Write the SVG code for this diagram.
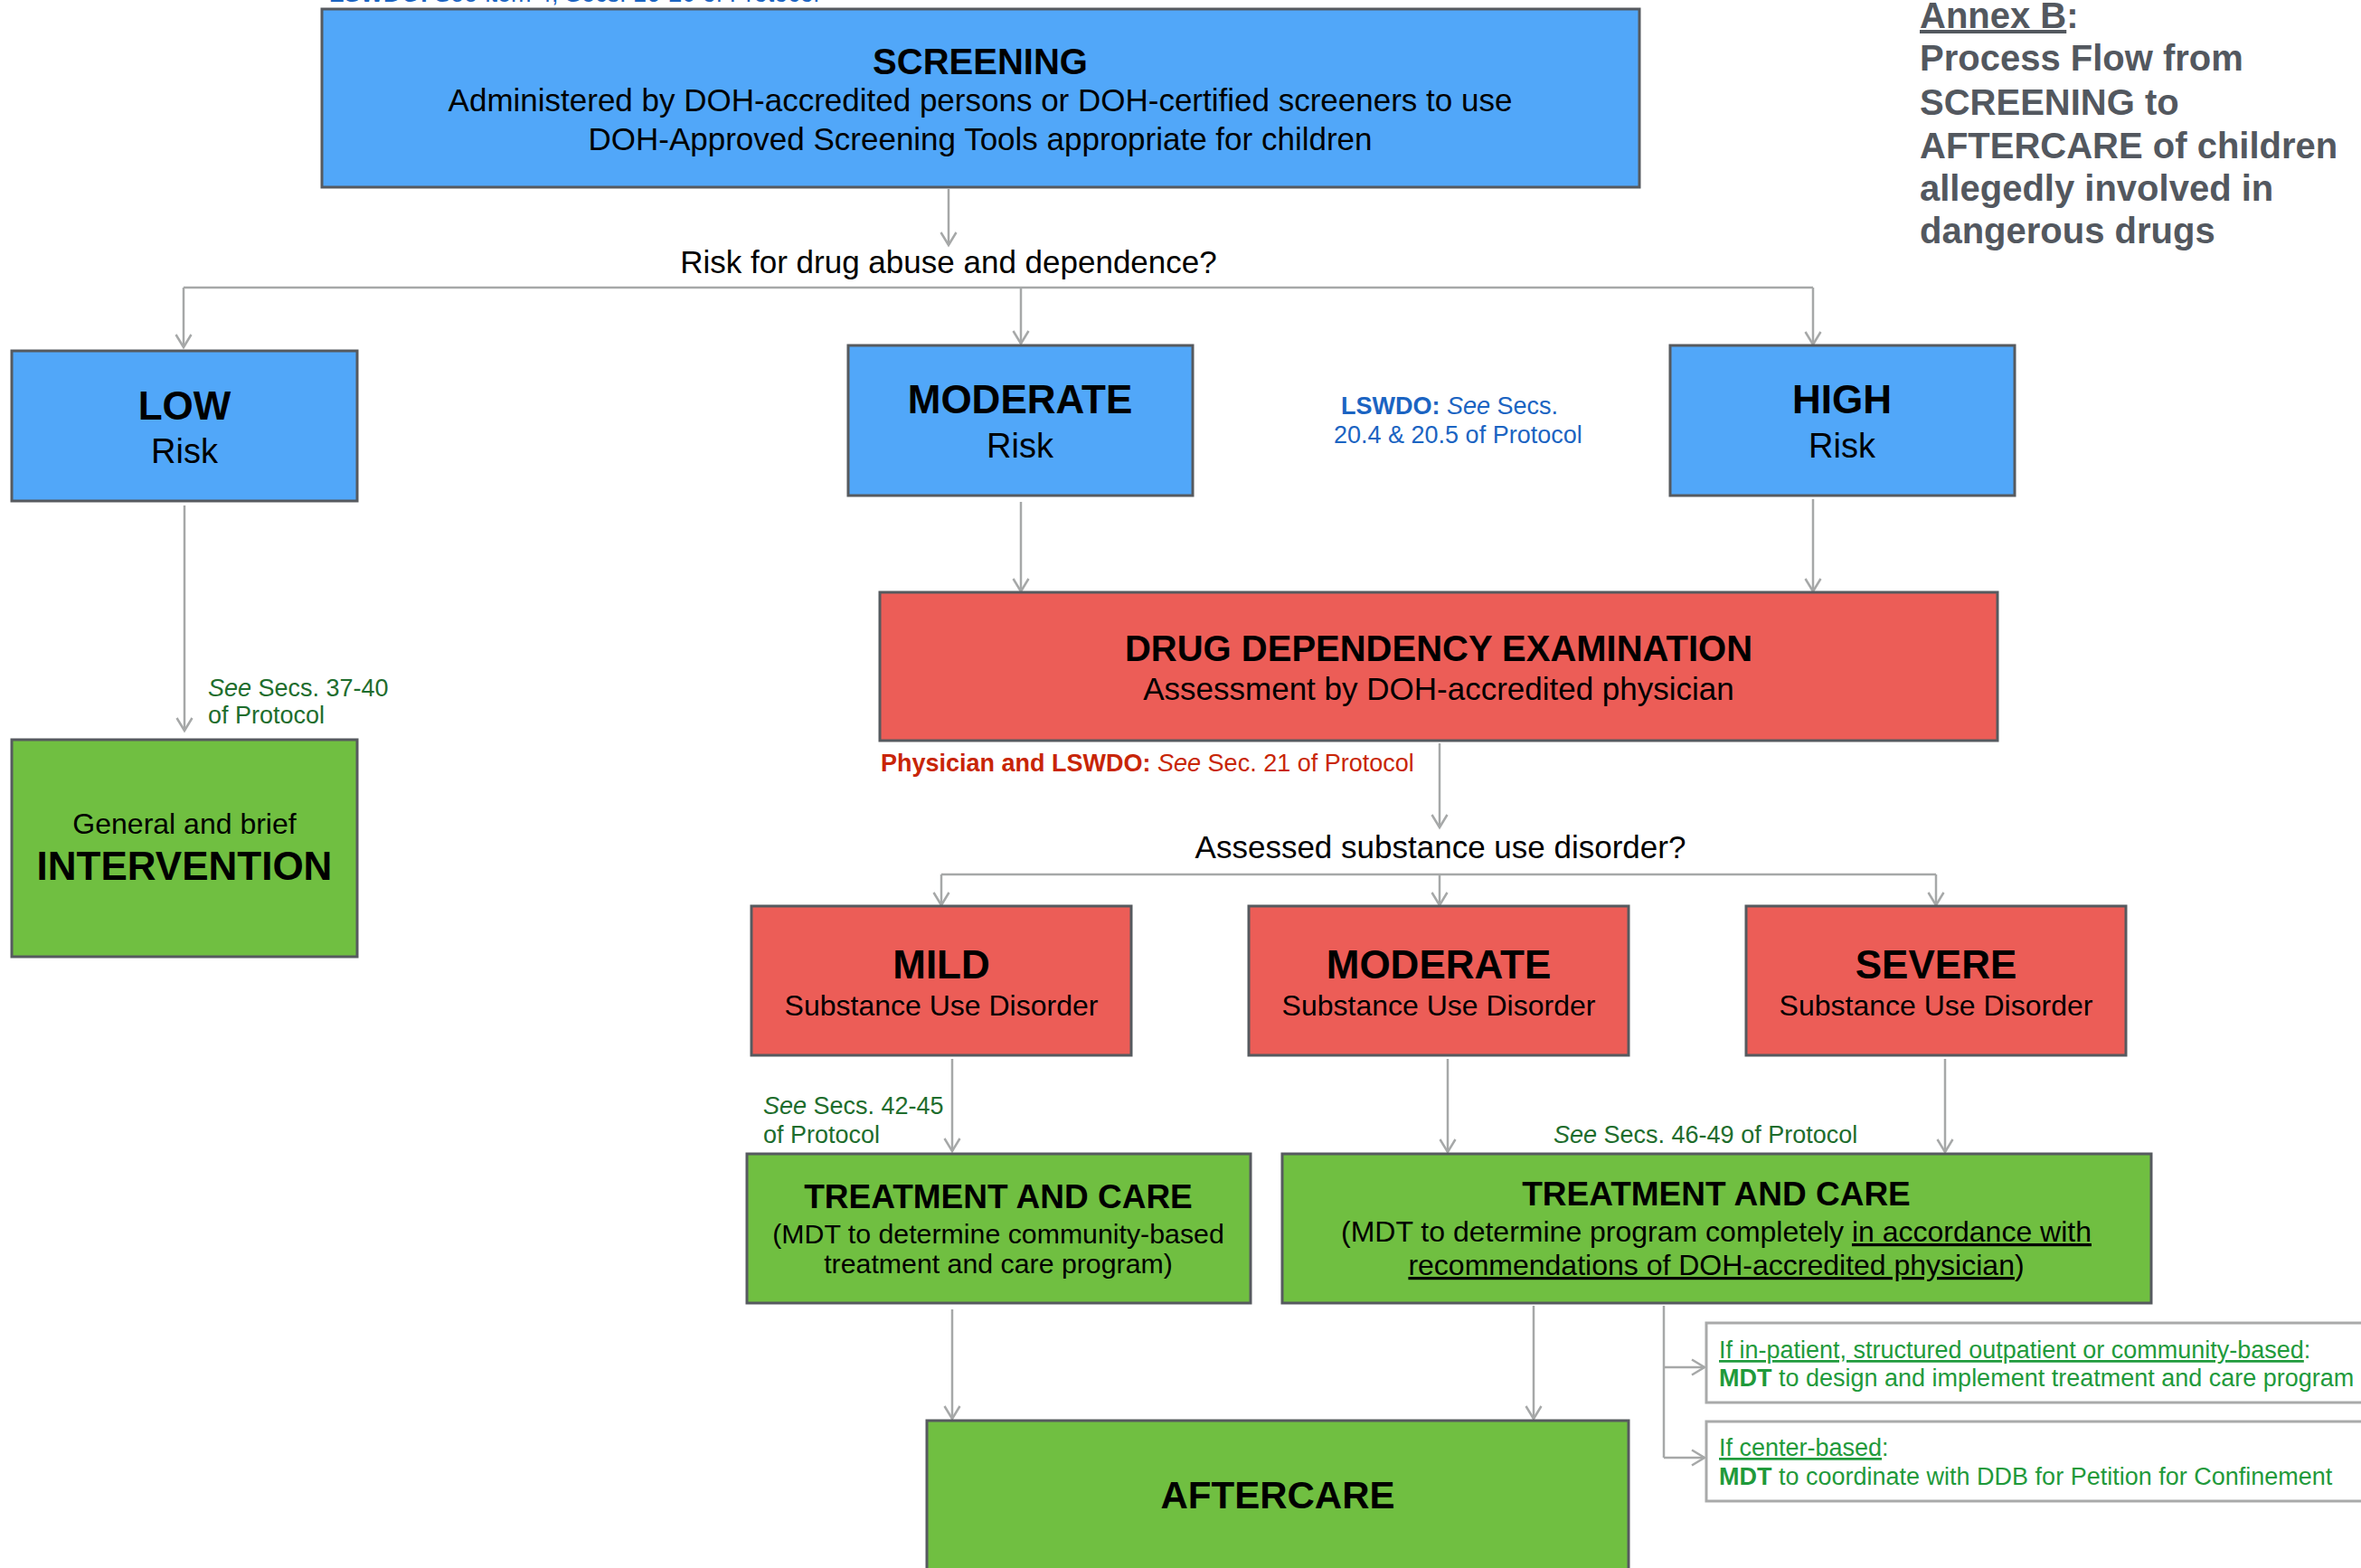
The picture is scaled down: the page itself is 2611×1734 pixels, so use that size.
<svg xmlns="http://www.w3.org/2000/svg" width="2611" height="1734" viewBox="0 0 2611 1734">
<style>
  text { font-family: "Liberation Sans", Arial, sans-serif; }
  .box { stroke: #565a5f; stroke-width: 3; }
  .blue { fill: #51a7f9; }
  .red { fill: #ec5d57; }
  .green { fill: #70bf41; }
  .side { fill: #ffffff; stroke: #a9aaaa; stroke-width: 3; }
  .t { fill: #000; text-anchor: middle; }
  .b { font-weight: bold; }
  .conn { fill: none; stroke: #a6a8a8; stroke-width: 2.5; }
  .q { font-size: 35px; fill: #000; text-anchor: middle; }
  .note { font-size: 27px; }
  .ng { fill: #1e6d2d; }
  .sg { fill: #1f9a3b; font-size: 27px; }
  .annex { fill: #53585f; font-weight: bold; font-size: 40px; }
</style>
<defs>
  <marker id="arr" markerUnits="userSpaceOnUse" markerWidth="26" markerHeight="26" viewBox="0 0 26 26" refX="23" refY="13" orient="auto">
    <path d="M9,4.5 L23,13 L9,21.5" fill="none" stroke="#a6a8a8" stroke-width="2.5"/>
  </marker>
</defs>

<!-- cut-off top annotation (cut off in the reference as well) -->
<text x="364" y="2" class="note" fill="#1b64c2"><tspan font-weight="bold">LSWDO:</tspan> <tspan font-style="italic">See</tspan> item 4, Secs. 16-20 of Protocol</text>

<g id="annex-title">
  <text x="2123" y="31" class="annex" font-size="45"><tspan text-decoration="underline">Annex B</tspan>:</text>
  <text x="2123" y="78" class="annex">Process Flow from</text>
  <text x="2123" y="127" class="annex">SCREENING to</text>
  <text x="2123" y="175" class="annex">AFTERCARE of children</text>
  <text x="2123" y="222" class="annex">allegedly involved in</text>
  <text x="2123" y="269" class="annex">dangerous drugs</text>
</g>

<g id="connectors">
  <path class="conn" d="M1049,209 V271" marker-end="url(#arr)"/>
  <path class="conn" d="M203,318 H2005"/>
  <path class="conn" d="M203,318 V384" marker-end="url(#arr)"/>
  <path class="conn" d="M1129,318 V380" marker-end="url(#arr)"/>
  <path class="conn" d="M2005,318 V381" marker-end="url(#arr)"/>
  <path class="conn" d="M204,559 V808" marker-end="url(#arr)"/>
  <path class="conn" d="M1129,555 V654" marker-end="url(#arr)"/>
  <path class="conn" d="M2005,552 V654" marker-end="url(#arr)"/>
  <path class="conn" d="M1592,822 V915" marker-end="url(#arr)"/>
  <path class="conn" d="M1041,967 H2141"/>
  <path class="conn" d="M1041,967 V1001" marker-end="url(#arr)"/>
  <path class="conn" d="M1592,967 V1001" marker-end="url(#arr)"/>
  <path class="conn" d="M2141,967 V1001" marker-end="url(#arr)"/>
  <path class="conn" d="M1053,1171 V1273" marker-end="url(#arr)"/>
  <path class="conn" d="M1601,1171 V1274" marker-end="url(#arr)"/>
  <path class="conn" d="M2151,1171 V1274" marker-end="url(#arr)"/>
  <path class="conn" d="M1053,1448 V1569" marker-end="url(#arr)"/>
  <path class="conn" d="M1696,1444 V1569" marker-end="url(#arr)"/>
  <path class="conn" d="M1840,1444 V1612"/>
  <path class="conn" d="M1840,1512 H1885" marker-end="url(#arr)"/>
  <path class="conn" d="M1840,1612 H1885" marker-end="url(#arr)"/>
</g>

<g id="screening">
  <rect x="356" y="10" width="1457" height="197" class="box blue"/>
  <text x="1084" y="82" class="t b" font-size="40">SCREENING</text>
  <text x="1084" y="123" class="t" font-size="35">Administered by DOH-accredited persons or DOH-certified screeners to use</text>
  <text x="1084" y="166" class="t" font-size="35">DOH-Approved Screening Tools appropriate for children</text>
</g>

<text x="1049" y="302" class="q">Risk for drug abuse and dependence?</text>

<g id="low-risk">
  <rect x="13" y="388" width="382" height="166" class="box blue"/>
  <text x="204" y="464" class="t b" font-size="44">LOW</text>
  <text x="204" y="512" class="t" font-size="38">Risk</text>
</g>

<g id="moderate-risk">
  <rect x="938" y="382" width="381" height="166" class="box blue"/>
  <text x="1128" y="457" class="t b" font-size="44">MODERATE</text>
  <text x="1128" y="506" class="t" font-size="38">Risk</text>
</g>

<g id="high-risk">
  <rect x="1847" y="382" width="381" height="166" class="box blue"/>
  <text x="2037" y="457" class="t b" font-size="44">HIGH</text>
  <text x="2037" y="506" class="t" font-size="38">Risk</text>
</g>

<g id="lswdo-note" class="note" fill="#1b64c2">
  <text x="1483" y="458"><tspan font-weight="bold">LSWDO:</tspan> <tspan font-style="italic">See</tspan> Secs.</text>
  <text x="1475" y="490">20.4 &amp; 20.5 of Protocol</text>
</g>

<g id="low-note" class="note ng">
  <text x="230" y="770"><tspan font-style="italic">See</tspan> Secs. 37-40</text>
  <text x="230" y="800">of Protocol</text>
</g>

<g id="intervention">
  <rect x="13" y="818" width="382" height="240" class="box green"/>
  <text x="204" y="922" class="t" font-size="32">General and brief</text>
  <text x="204" y="973" class="t b" font-size="44">INTERVENTION</text>
</g>

<g id="dde">
  <rect x="973" y="655" width="1236" height="164" class="box red"/>
  <text x="1591" y="731" class="t b" font-size="40">DRUG DEPENDENCY EXAMINATION</text>
  <text x="1591" y="774" class="t" font-size="35">Assessment by DOH-accredited physician</text>
</g>

<text x="974" y="853" class="note" fill="#c82506" font-size="26.6"><tspan font-weight="bold">Physician and LSWDO:</tspan> <tspan font-style="italic">See</tspan> Sec. 21 of Protocol</text>

<text x="1593" y="949" class="q">Assessed substance use disorder?</text>

<g id="mild">
  <rect x="831" y="1002" width="420" height="165" class="box red"/>
  <text x="1041" y="1082" class="t b" font-size="44">MILD</text>
  <text x="1041" y="1123" class="t" font-size="32">Substance Use Disorder</text>
</g>

<g id="moderate-sud">
  <rect x="1381" y="1002" width="420" height="165" class="box red"/>
  <text x="1591" y="1082" class="t b" font-size="44">MODERATE</text>
  <text x="1591" y="1123" class="t" font-size="32">Substance Use Disorder</text>
</g>

<g id="severe-sud">
  <rect x="1931" y="1002" width="420" height="165" class="box red"/>
  <text x="2141" y="1082" class="t b" font-size="44">SEVERE</text>
  <text x="2141" y="1123" class="t" font-size="32">Substance Use Disorder</text>
</g>

<g id="mild-note" class="note ng">
  <text x="844" y="1232"><tspan font-style="italic">See</tspan> Secs. 42-45</text>
  <text x="844" y="1264">of Protocol</text>
</g>

<text x="1718" y="1264" class="note ng" font-size="26.6"><tspan font-style="italic">See</tspan> Secs. 46-49 of Protocol</text>

<g id="treatment-community">
  <rect x="826" y="1276" width="557" height="165" class="box green"/>
  <text x="1104" y="1336" class="t b" font-size="37">TREATMENT AND CARE</text>
  <text x="1104" y="1375" class="t" font-size="30.3">(MDT to determine community-based</text>
  <text x="1104" y="1408" class="t" font-size="30.3">treatment and care program)</text>
</g>

<g id="treatment-physician">
  <rect x="1418" y="1276" width="961" height="165" class="box green"/>
  <text x="1898" y="1333" class="t b" font-size="37">TREATMENT AND CARE</text>
  <text x="1898" y="1373" class="t" font-size="32">(MDT to determine program completely <tspan text-decoration="underline">in accordance with</tspan></text>
  <text x="1898" y="1410" class="t" font-size="32"><tspan text-decoration="underline">recommendations of DOH-accredited physician</tspan>)</text>
</g>

<g id="aftercare">
  <rect x="1025" y="1571" width="776" height="200" class="box green"/>
  <text x="1413" y="1668" class="t b" font-size="42">AFTERCARE</text>
</g>

<g id="option-inpatient">
  <rect x="1887" y="1463" width="760" height="88" class="side"/>
  <text x="1901" y="1502" class="sg"><tspan text-decoration="underline">If in-patient, structured outpatient or community-based</tspan>:</text>
  <text x="1901" y="1533" class="sg"><tspan font-weight="bold">MDT</tspan> to design and implement treatment and care program</text>
</g>

<g id="option-center">
  <rect x="1887" y="1572" width="760" height="88" class="side"/>
  <text x="1901" y="1610" class="sg"><tspan text-decoration="underline">If center-based</tspan>:</text>
  <text x="1901" y="1642" class="sg" font-size="26.6"><tspan font-weight="bold">MDT</tspan> to coordinate with DDB for Petition for Confinement</text>
</g>
</svg>
